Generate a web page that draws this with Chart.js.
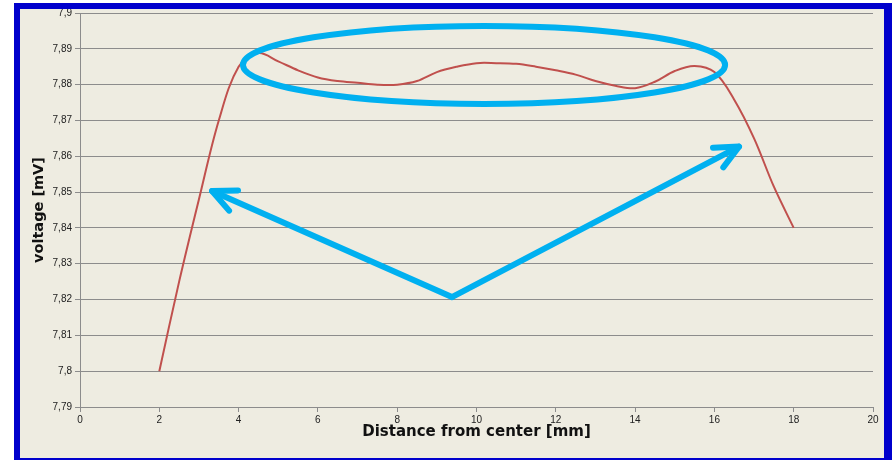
<!DOCTYPE html>
<html>
<head>
<meta charset="utf-8">
<script src="https://cdn.jsdelivr.net/npm/chart.js@4"></script>
<style>
  body { margin: 0; background: white; }
  #frame {
    position: absolute;
    left: 14px;
    top: 3px;
    width: 864px;
    height: 449px;
    background: #EEECE1;
    border-left: 6px solid #0000CC;
    border-top: 6px solid #0000CC;
    border-right: 8px solid #0000CC;
    border-bottom: 2px solid #0000CC;
  }
</style>
</head>
<body>
<div id="frame"><canvas id="myChart"></canvas></div>
<script>
const distance = [2, 2.5, 3, 3.5, 4, 4.5, 5, 5.5, 6, 6.5, 7, 7.5, 8, 8.5, 9, 9.5,
  10, 10.5, 11, 11.5, 12, 12.5, 13, 13.5, 14, 14.5, 15, 15.5, 16, 16.5, 17, 17.5, 18];
const voltage = [7.800, 7.825, 7.848, 7.870, 7.885, 7.8888, 7.8865, 7.884, 7.882, 7.881,
  7.8805, 7.880, 7.880, 7.881, 7.8835, 7.885, 7.886, 7.886, 7.8858, 7.885, 7.884,
  7.8828, 7.881, 7.8797, 7.879, 7.8808, 7.8838, 7.8852, 7.8835, 7.8758, 7.865, 7.8515, 7.840];

const xTickValues = [0, 2, 4, 6, 8, 10, 12, 14, 16, 18, 20];
const xTickLabels = ["0", "2", "4", "6", "8", "10", "12", "14", "16", "18", "20"];
const yTickValues = [7.79, 7.80, 7.81, 7.82, 7.83, 7.84, 7.85, 7.86, 7.87, 7.88, 7.89, 7.90];
const yTickLabels = ["7,79", "7,8", "7,81", "7,82", "7,83", "7,84", "7,85", "7,86", "7,87", "7,88", "7,89", "7,9"];

// hand drawn marks on top of the chart (in data units)
const ellipseMark = { x: 10.19, y: 7.8855, rx: 6.08, ry: 0.0109 };
const arrowBase = { x: 9.38, y: 7.8207 };
const arrowTips = [{ x: 3.33, y: 7.8503 }, { x: 16.62, y: 7.8627 }];

const points = distance.map((d, i) => ({ x: d, y: voltage[i] }));

const blueMarks = {
  id: "blueMarks",
  afterDatasetsDraw(chart) {
    const ctx = chart.ctx;
    const xs = chart.scales.x;
    const ys = chart.scales.y;
    ctx.save();
    ctx.strokeStyle = "#00B0F0";
    ctx.lineWidth = 6;
    ctx.lineCap = "round";
    ctx.lineJoin = "round";

    // ellipse
    const cx = xs.getPixelForValue(ellipseMark.x);
    const cy = ys.getPixelForValue(ellipseMark.y);
    const rx = xs.getPixelForValue(ellipseMark.x + ellipseMark.rx) - cx;
    const ry = cy - ys.getPixelForValue(ellipseMark.y + ellipseMark.ry);
    ctx.beginPath();
    ctx.ellipse(cx, cy, rx, ry, 0, 0, Math.PI * 2);
    ctx.stroke();

    // arrows
    const bx = xs.getPixelForValue(arrowBase.x);
    const by = ys.getPixelForValue(arrowBase.y);
    arrowTips.forEach(tip => {
      const tx = xs.getPixelForValue(tip.x);
      const ty = ys.getPixelForValue(tip.y);
      ctx.beginPath();
      ctx.moveTo(bx, by);
      ctx.lineTo(tx, ty);
      ctx.stroke();
      const back = Math.atan2(by - ty, bx - tx);
      const head = 26;
      ctx.beginPath();
      ctx.moveTo(tx + head * Math.cos(back - 0.44), ty + head * Math.sin(back - 0.44));
      ctx.lineTo(tx, ty);
      ctx.lineTo(tx + head * Math.cos(back + 0.44), ty + head * Math.sin(back + 0.44));
      ctx.stroke();
    });
    ctx.restore();
  }
};

const tickFont = { family: "Liberation Sans", size: 10 };
const titleFont = { family: "DejaVu Sans", size: 15, weight: "bold" };

new Chart(document.getElementById("myChart"), {
  type: "line",
  data: {
    datasets: [{
      label: "voltage",
      data: points,
      borderColor: "#C0504D",
      borderWidth: 2,
      pointRadius: 0,
      tension: 0.35,
      fill: false
    }]
  },
  options: {
    responsive: true,
    maintainAspectRatio: false,
    animation: false,
    layout: { padding: { left: 0, top: 4, right: 11, bottom: 0 } },
    plugins: {
      legend: { display: false },
      tooltip: { enabled: false }
    },
    scales: {
      x: {
        type: "linear",
        min: 0,
        max: 20,
        afterBuildTicks: scale => { scale.ticks = xTickValues.map(v => ({ value: v })); },
        afterFit: scale => { scale.height = 51; },
        ticks: {
          font: tickFont,
          color: "#222222",
          padding: 2,
          maxRotation: 0,
          callback: (value, index) => xTickLabels[index]
        },
        grid: { drawOnChartArea: false, color: "#8C8C8C", tickLength: 5 },
        border: { color: "#8C8C8C" },
        title: {
          display: true,
          text: "Distance from center [mm]",
          font: titleFont,
          color: "#111111",
          padding: { top: 0, bottom: 17 }
        }
      },
      y: {
        min: 7.79,
        max: 7.9,
        afterBuildTicks: scale => { scale.ticks = yTickValues.map(v => ({ value: v })); },
        afterFit: scale => {
          scale.width = 60;
          scale.paddingTop = 0;
          scale.paddingBottom = 0;
        },
        ticks: {
          font: tickFont,
          color: "#222222",
          padding: 3,
          callback: (value, index) => yTickLabels[index]
        },
        grid: { color: "#8C8C8C", tickLength: 5 },
        border: { color: "#8C8C8C" },
        title: {
          display: true,
          text: "voltage [mV]",
          font: { family: "DejaVu Sans", size: 14.5, weight: "bold" },
          color: "#111111",
          padding: { top: 11, bottom: 0 }
        }
      }
    }
  },
  plugins: [blueMarks]
});
</script>
</body>
</html>
